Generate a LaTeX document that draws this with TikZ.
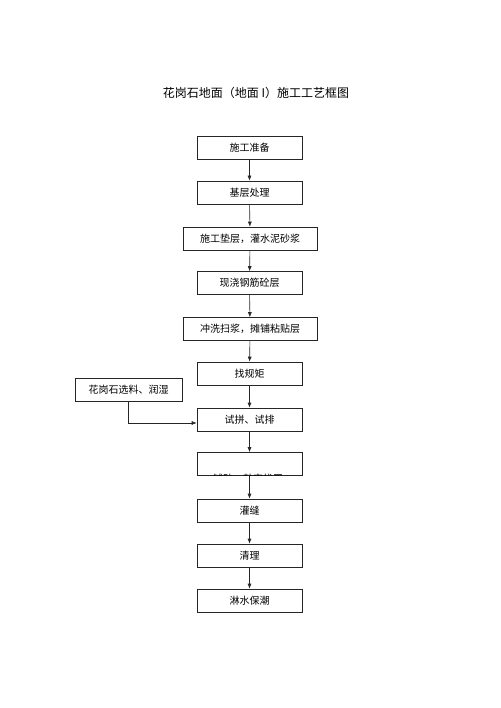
\documentclass[tikz,border=0pt]{standalone}
\usepackage{fontspec}
\setmainfont{Noto Sans CJK SC}
\usetikzlibrary{arrows.meta}
\begin{document}
\begin{tikzpicture}[x=1pt,y=-1pt,
  box/.style={draw=black!85,line width=0.6pt,minimum height=23pt,inner sep=0pt,font=\fontsize{10}{12}\selectfont},
  nbox/.style={box,minimum width=105pt},
  wbox/.style={box,minimum width=134pt},
  arr/.style={draw=black!85,line width=0.6pt,-{Latex[length=5pt,width=4pt]}}]
\useasboundingbox (0,0) rectangle (500,708);
\node[font=\fontsize{12}{14}\selectfont] (title) at (256,93) {花岗石地面（地面 I）施工工艺框图};
\node[nbox] (b1) at (249.5,147.5) {施工准备};
\node[nbox] (b2) at (249.5,192.5) {基层处理};
\node[wbox] (b3) at (250,238.5) {施工垫层，灌水泥砂浆};
\node[nbox] (b4) at (249.5,283) {现浇钢筋砼层};
\node[wbox] (b5) at (250,329) {冲洗扫浆，摊铺粘贴层};
\node[nbox] (b6) at (249.5,373.5) {找规矩};
\node[box,minimum width=107pt] (s) at (128.5,389.5) {花岗石选料、润湿};
\node[nbox] (b7) at (249.5,419.5) {试拼、试排};
\node[nbox] (b8) at (249.5,464) {};
\begin{scope}
\clip (197.5,453) rectangle (301.5,475);
\node[font=\fontsize{10}{12}\selectfont,inner sep=0pt] (t8) at (248,479) {铺贴、敲实找平};
\end{scope}
\node[nbox] (b9) at (249.5,510.5) {灌缝};
\node[nbox] (b10) at (249.5,555.5) {清理};
\node[nbox] (b11) at (249.5,600.5) {淋水保潮};
\draw[arr] (b1) -- (b2);
\draw[arr] (b2) -- (b3);
\draw[arr] (b3) -- (b4);
\draw[arr] (b4) -- (b5);
\draw[arr] (b5) -- (b6);
\draw[arr] (b6) -- (b7);
\draw[arr] (b7) -- (b8);
\draw[arr] (b8) -- (b9);
\draw[arr] (b9) -- (b10);
\draw[arr] (b10) -- (b11);
\draw[arr] (s.south) |- (b7.west |- 0,423);
\end{tikzpicture}
\end{document}
